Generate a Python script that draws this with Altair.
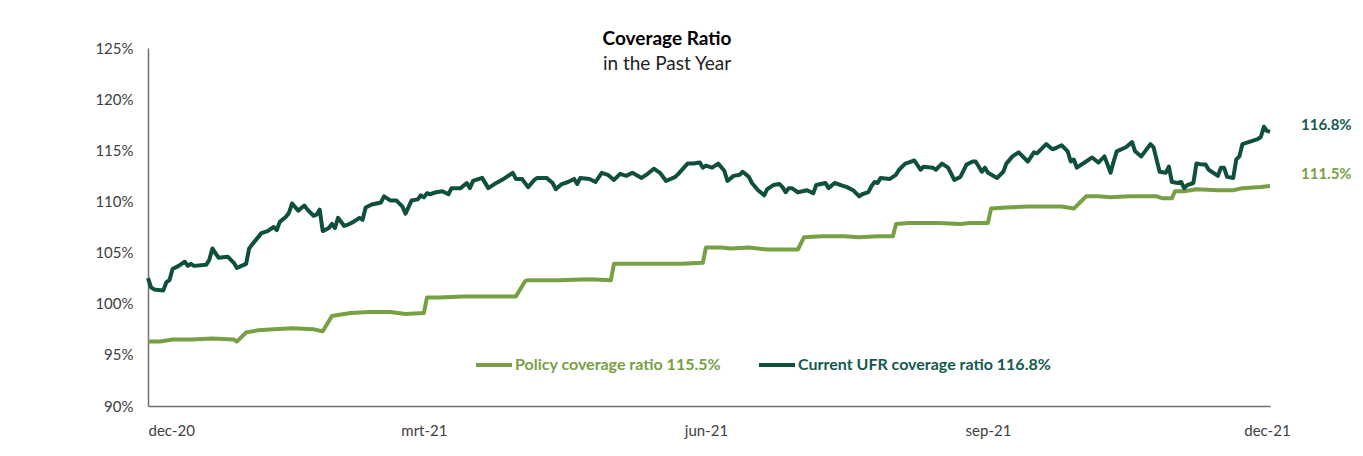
import altair as alt
import pandas as pd

START = "2020-12-01"
MONTHS_NL = ["jan", "feb", "mrt", "apr", "mei", "jun", "jul", "aug", "sep", "okt", "nov", "dec"]
X_TICKS = ["2020-12-01", "2021-03-01", "2021-06-01", "2021-09-01", "2021-12-01"]
X_DOMAIN = ["2020-12-01", "2021-12-02"]
Y_TICKS = [90, 95, 100, 105, 110, 115, 120, 125]

POLICY_NAME = "Policy coverage ratio 115.5%"
UFR_NAME = "Current UFR coverage ratio 116.8%"

# days since START
ufr_days = [
    0, 1, 2, 5, 6, 7, 8, 10, 12, 13,
    14, 15, 19, 20, 21, 23, 26, 28, 29, 32,
    33, 34, 37, 39, 41, 42, 43, 45, 46, 47,
    49, 51, 52, 54, 55, 56, 57, 59, 60, 61,
    62, 64, 65, 67, 69, 70, 71, 73, 76, 77,
    79, 81, 83, 84, 86, 88, 89, 90, 91, 92,
    94, 96, 98, 99, 102, 104, 105, 106, 109, 111,
    113, 116, 117, 119, 120, 122, 124, 126, 127, 130,
    132, 133, 135, 137, 139, 140, 141, 144, 146, 148,
    150, 152, 154, 156, 158, 161, 163, 165, 167, 169,
    172, 173, 176, 178, 180, 181, 182, 184, 186, 188,
    189, 191, 193, 194, 196, 197, 199, 201, 202, 203,
    204, 206, 207, 208, 209, 210, 212, 215, 217, 218,
    221, 222, 224, 226, 228, 230, 232, 233, 235, 236,
    237, 238, 239, 242, 244, 245, 247, 248, 250, 252,
    253, 256, 257, 259, 261, 263, 265, 267, 269, 270,
    272, 273, 274, 277, 279, 280, 282, 284, 287, 289,
    290, 293, 295, 296, 298, 300, 301, 302, 303, 306,
    308, 310, 312, 314, 315, 316, 319, 321, 322, 324,
    325, 327, 328, 330, 332, 333, 334, 336, 337, 338,
    339, 341, 342, 344, 345, 346, 349, 350, 351, 352,
    354, 355, 356, 357, 359, 362, 363, 364, 365, 366,
]
ufr_values = [
    102.5, 101.6, 101.4, 101.3, 102.1, 102.3, 103.4, 103.7, 104.1, 103.7,
    103.9, 103.7, 103.8, 104.3, 105.4, 104.5, 104.6, 104.0, 103.5, 103.9,
    105.4, 105.8, 106.9, 107.1, 107.5, 107.2, 108.0, 108.5, 108.9, 109.8,
    109.1, 109.6, 109.2, 108.6, 108.7, 109.2, 107.1, 107.4, 107.8, 107.4,
    108.4, 107.6, 107.7, 108.0, 108.4, 108.2, 109.4, 109.7, 109.9, 110.5,
    110.1, 110.1, 109.5, 108.8, 110.1, 110.2, 110.6, 110.4, 110.8, 110.7,
    110.9, 111.0, 110.7, 111.3, 111.3, 111.8, 111.3, 112.0, 112.3, 111.3,
    111.7, 112.2, 112.4, 112.8, 112.2, 112.2, 111.4, 112.1, 112.3, 112.3,
    111.8, 111.2, 111.7, 111.9, 112.2, 111.7, 112.3, 112.2, 111.9, 112.8,
    112.6, 112.1, 112.7, 112.5, 112.8, 112.3, 112.7, 113.2, 112.8, 112.0,
    112.4, 112.7, 113.7, 113.7, 113.8, 113.3, 113.5, 113.3, 113.7, 113.0,
    112.0, 112.5, 112.6, 112.9, 112.4, 111.8, 111.1, 110.6, 111.2, 111.4,
    111.6, 111.7, 111.4, 110.9, 111.3, 111.3, 110.9, 111.1, 110.8, 111.6,
    111.8, 111.3, 111.8, 111.6, 111.4, 111.1, 110.5, 110.7, 110.9, 111.5,
    111.9, 111.8, 112.3, 112.2, 112.6, 113.1, 113.7, 113.8, 114.0, 113.1,
    113.4, 113.3, 113.1, 113.7, 113.3, 112.1, 112.4, 113.6, 113.9, 113.9,
    112.9, 113.3, 112.8, 112.3, 112.9, 113.7, 114.4, 114.8, 113.9, 114.8,
    114.7, 115.6, 115.1, 115.2, 115.5, 114.9, 113.9, 114.1, 113.3, 113.9,
    114.3, 113.8, 114.4, 112.8, 113.9, 114.9, 115.3, 115.8, 114.9, 114.4,
    114.8, 115.6, 115.3, 112.9, 112.8, 113.4, 111.9, 111.8, 111.9, 111.3,
    111.6, 111.8, 113.7, 113.6, 113.6, 113.1, 112.5, 113.3, 113.3, 112.4,
    112.3, 114.1, 114.4, 115.6, 115.8, 116.1, 116.3, 117.3, 116.9, 116.8,
]

policy_days = [
    0, 4, 8, 14, 21, 28, 29, 32, 36, 41,
    47, 54, 57, 60, 62, 66, 72, 79, 84, 90,
    91, 95, 103, 111, 116, 120, 123, 124, 134, 144,
    151, 152, 159, 167, 174, 181, 182, 187, 190, 196,
    202, 209, 212, 214, 220, 227, 232, 238, 243, 244,
    248, 252, 258, 265, 268, 274, 275, 280, 287, 293,
    298, 302, 306, 310, 314, 320, 329, 331, 334, 335,
    338, 342, 349, 354, 357, 363, 366,
]
policy_values = [
    96.3, 96.3, 96.5, 96.5, 96.6, 96.5, 96.3, 97.2, 97.4, 97.5,
    97.6, 97.5, 97.3, 98.8, 98.9, 99.1, 99.2, 99.2, 99.0, 99.1,
    100.6, 100.6, 100.7, 100.7, 100.7, 100.7, 102.2, 102.3, 102.3, 102.4,
    102.3, 103.9, 103.9, 103.9, 103.9, 104.0, 105.5, 105.5, 105.4, 105.5,
    105.3, 105.3, 105.3, 106.5, 106.6, 106.6, 106.5, 106.6, 106.6, 107.8,
    107.9, 107.9, 107.9, 107.8, 107.9, 107.9, 109.3, 109.4, 109.5, 109.5,
    109.5, 109.3, 110.5, 110.5, 110.4, 110.5, 110.5, 110.3, 110.3, 111.0,
    111.0, 111.2, 111.1, 111.1, 111.3, 111.4, 111.5,
]

DARK = "#0E4F3D"
DARK_TEXT = "#15594D"
LIGHT = "#77A044"
LIGHT_TEXT = "#77A044"
FONT = "Lato"


def to_iso(days):
    idx = pd.Timestamp(START) + pd.to_timedelta(days, unit="D")
    return [d.strftime("%Y-%m-%dT00:00:00Z") for d in idx]


def utc(s):
    t = pd.Timestamp(s)
    return alt.DateTime(year=t.year, month=t.month, date=t.day, utc=True)


policy_df = pd.DataFrame({"date": to_iso(policy_days), "value": policy_values, "sa": POLICY_NAME})
ufr_df = pd.DataFrame({"date": to_iso(ufr_days), "value": ufr_values, "sb": UFR_NAME})

policy_end = policy_df.tail(1).assign(label=lambda d: d["value"].map(lambda v: f"{v:.1f}%"))
ufr_end = ufr_df.tail(1).assign(label=lambda d: d["value"].map(lambda v: f"{v:.1f}%"))

month_arr = "[" + ",".join(f"'{m}'" for m in MONTHS_NL) + "]"
x_label_expr = f"{month_arr}[utcmonth(datum.value)] + '-' + utcFormat(datum.value, '%y')"

x_enc = alt.X(
    "date:T",
    scale=alt.Scale(type="utc", domain=[utc(d) for d in X_DOMAIN]),
    axis=alt.Axis(values=[utc(d) for d in X_TICKS], labelExpr=x_label_expr, title=None,
                  labelPadding=17),
)
y_enc = alt.Y(
    "value:Q",
    scale=alt.Scale(domain=[Y_TICKS[0], Y_TICKS[-1]], nice=False, zero=False),
    axis=alt.Axis(values=Y_TICKS, labelExpr="datum.value + '%'", title=None, labelPadding=15),
)

legend_common = dict(
    orient="none", title=None, symbolType="stroke", symbolSize=1296, symbolStrokeWidth=4,
    labelFont=FONT, labelFontSize=16, labelFontWeight="bold", labelOffset=1, padding=0,
    labelLimit=400,
)

policy_line = alt.Chart(policy_df).mark_line(strokeWidth=4, strokeJoin="round").encode(
    x=x_enc, y=y_enc,
    color=alt.Color("sa:N", scale=alt.Scale(domain=[POLICY_NAME], range=[LIGHT]),
                    legend=alt.Legend(legendX=326, legendY=297, labelColor=LIGHT_TEXT, **legend_common)),
)
ufr_line = alt.Chart(ufr_df).mark_line(strokeWidth=4, strokeJoin="round").encode(
    x=x_enc, y=y_enc,
    stroke=alt.Stroke("sb:N", scale=alt.Scale(domain=[UFR_NAME], range=[DARK]),
                      legend=alt.Legend(legendX=609, legendY=297, labelColor=DARK_TEXT, **legend_common)),
)
ufr_label = alt.Chart(ufr_end).mark_text(
    align="left", baseline="middle", dx=31, dy=-7, font=FONT, fontSize=15, fontWeight="bold", color=DARK_TEXT
).encode(x="date:T", y="value:Q", text="label:N")
policy_label = alt.Chart(policy_end).mark_text(
    align="left", baseline="middle", dx=31, dy=-12, font=FONT, fontSize=15, fontWeight="bold", color=LIGHT_TEXT
).encode(x="date:T", y="value:Q", text="label:N")

chart = alt.layer(policy_line, ufr_line, ufr_label, policy_label).properties(
    width=1122,
    height=358,
    padding={"left": 140, "top": 40, "right": 85, "bottom": 40},
    autosize=alt.AutoSizeParams(type="none"),
    title=alt.TitleParams(
        text="Coverage Ratio", subtitle="in the Past Year", font=FONT, fontSize=19, fontWeight="bold",
        color="#000000", subtitleFont=FONT, subtitleFontSize=19, subtitleColor="#222222",
        subtitlePadding=6, anchor="middle", dx=-42, offset=-33,
    ),
).configure_view(stroke=None).configure_axis(
    grid=False, ticks=False, domainColor="#6f6f6f", domainWidth=1.5,
    labelFont=FONT, labelFontSize=15, labelColor="#404040",
)

chart.save("out.html", embed_options={"renderer": "svg", "actions": False})
